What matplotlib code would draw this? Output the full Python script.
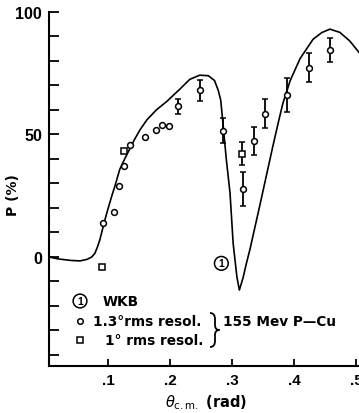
import matplotlib
matplotlib.use("Agg")
import matplotlib.pyplot as plt
from matplotlib.ticker import FixedLocator
from matplotlib.path import Path
from matplotlib.patches import PathPatch

plt.rcParams['font.family'] = ['Liberation Sans', 'DejaVu Sans']

# WKB theory curve
wkb_x = [0.005, 0.02, 0.04, 0.055, 0.066, 0.074, 0.079, 0.083, 0.087, 0.091, 0.095,
         0.100, 0.106, 0.112, 0.119, 0.127, 0.135, 0.143, 0.152, 0.163, 0.178, 0.195,
         0.216, 0.232, 0.248, 0.262, 0.272, 0.278, 0.282, 0.286, 0.291, 0.297, 0.302,
         0.308, 0.312, 0.318, 0.323, 0.329, 0.337, 0.345, 0.355, 0.365, 0.374, 0.382,
         0.394, 0.410, 0.431, 0.445, 0.458, 0.474, 0.490, 0.505]
wkb_y = [0.0, -0.8, -1.4, -1.6, -1.0, 0.0, 1.5, 4.0, 7.0, 11.0, 15.0,
         19.5, 24.7, 29.5, 35.7, 40.0, 44.0, 48.0, 52.0, 56.0, 60.0, 63.5,
         68.5, 72.5, 74.2, 74.0, 72.0, 68.0, 64.0, 53.4, 39.8, 26.0, 5.6,
         -8.0, -13.5, -8.5, -3.0, 3.0, 12.0, 21.0, 32.5, 44.0, 54.0, 62.5,
         72.0, 81.0, 88.9, 91.6, 93.0, 91.7, 88.2, 83.5]

# 1.3 deg rms resolution data (circles)
c_x = [0.0915, 0.110, 0.118, 0.126, 0.135, 0.160, 0.177, 0.187, 0.198, 0.213, 0.248,
       0.286, 0.318, 0.336, 0.353, 0.389, 0.425, 0.459]
c_y = [14.0, 18.3, 29.0, 37.3, 45.6, 48.9, 51.8, 53.8, 53.3, 61.5, 68.0,
       51.6, 27.7, 47.3, 58.5, 66.1, 77.3, 84.5]
c_err = [0, 0, 0, 0, 0, 0, 0, 0, 0, 3.0, 4.3,
         5.0, 7.0, 5.8, 5.9, 7.0, 5.8, 4.8]

# 1 deg rms resolution data (squares)
s_x = [0.090, 0.126, 0.316]
s_y = [-4.0, 43.2, 42.2]
s_err = [0, 0, 4.8]

W, H = 359, 414
fig = plt.figure(figsize=(W / 100, H / 100), dpi=100)

def fx(px):
    return px / W

def fy(py):
    return 1 - py / H

ax = fig.add_axes([fx(49), fy(367), fx(359) - fx(49), fy(13) - fy(367)])
ax.set_xlim(0.005, 0.505)
ax.set_ylim(-44.5, 100)

ax.plot(wkb_x, wkb_y, color='black', lw=1.2, zorder=2)

ax.errorbar(c_x, c_y, yerr=c_err, fmt='o', ms=4.2,
            mfc='white', mec='black', mew=1.1, ecolor='black', elinewidth=1.3,
            capsize=2.5, capthick=1.3, zorder=3)
ax.errorbar(s_x, s_y, yerr=s_err, fmt='s', ms=4.0,
            mfc='white', mec='black', mew=1.1, ecolor='black', elinewidth=1.3,
            capsize=2.5, capthick=1.3, zorder=3)

for sp in ['top', 'right']:
    ax.spines[sp].set_visible(False)
for sp in ['left', 'bottom']:
    ax.spines[sp].set_linewidth(1.5)

ax.yaxis.set_major_locator(FixedLocator([0, 50, 100]))
ax.yaxis.set_minor_locator(FixedLocator([-40, -30, -20, -10, 10, 20, 30, 40, 60, 70, 80, 90]))
ax.set_yticklabels(['0', '50', '100'], fontsize=11.5, fontweight='bold')
ax.xaxis.set_major_locator(FixedLocator([0.1, 0.2, 0.3, 0.4, 0.5]))
ax.xaxis.set_minor_locator(FixedLocator([]))
ax.set_xticklabels(['.1', '.2', '.3', '.4', '.5'], fontsize=11, fontweight='bold')
ax.tick_params(axis='y', which='both', direction='in', length=7, width=1.3, pad=5)
ax.tick_params(axis='x', which='both', direction='in', length=5, width=1.3, pad=5)

fig.text(fx(206), fy(403), r'$\theta_{\rm c.m.}$ (rad)', ha='center', va='center',
         fontsize=10.5, fontweight='bold', family='DejaVu Sans')
fig.text(fx(13), fy(195), 'P (%)', ha='center', va='center', rotation=90,
         fontsize=10, fontweight='bold', family='DejaVu Sans')

# curve label near the minimum
ax.text(0.283, -2.6, '1', ha='center', va='center', fontsize=7.5, fontweight='bold',
        bbox=dict(boxstyle='circle,pad=0.18', fc='white', ec='black', lw=1.1))

# legend block
LF = dict(fontsize=9.8, fontweight='bold', family='DejaVu Sans', va='center', ha='left')
fig.text(fx(80), fy(302), '1', ha='center', va='center', fontsize=7.5, fontweight='bold',
         bbox=dict(boxstyle='circle,pad=0.18', fc='white', ec='black', lw=1.1))
fig.text(fx(103), fy(302), 'WKB', **LF)
fig.lines.append(plt.Line2D([fx(80)], [fy(322)], marker='o', ms=4, mfc='white', mec='black',
                            mew=1.1, transform=fig.transFigure, figure=fig))
fig.text(fx(93), fy(322), '1.3°rms resol.', **LF)
fig.lines.append(plt.Line2D([fx(80)], [fy(341)], marker='s', ms=4, mfc='white', mec='black',
                            mew=1.1, transform=fig.transFigure, figure=fig))
fig.text(fx(105), fy(341), '1° rms resol.', **LF)
fig.text(fx(223), fy(322), '155 Mev P\u2014Cu', **LF)

# curly brace joining the two resolution entries
bx, tip = 215.0, 219.5
verts = [(210, 314), (215, 314), (bx, 320), (bx, 326), (bx, 331), (tip, 331),
         (bx, 331), (bx, 336), (bx, 342), (bx, 348), (210, 348)]
codes = [Path.MOVETO, Path.CURVE3, Path.CURVE3, Path.LINETO, Path.CURVE3, Path.CURVE3,
         Path.CURVE3, Path.CURVE3, Path.LINETO, Path.CURVE3, Path.CURVE3]
verts = [(fx(a), fy(b)) for a, b in verts]
fig.patches.append(PathPatch(Path(verts, codes), fc='none', ec='black', lw=1.3,
                             transform=fig.transFigure, figure=fig))

fig.savefig('out.png', dpi=100)
